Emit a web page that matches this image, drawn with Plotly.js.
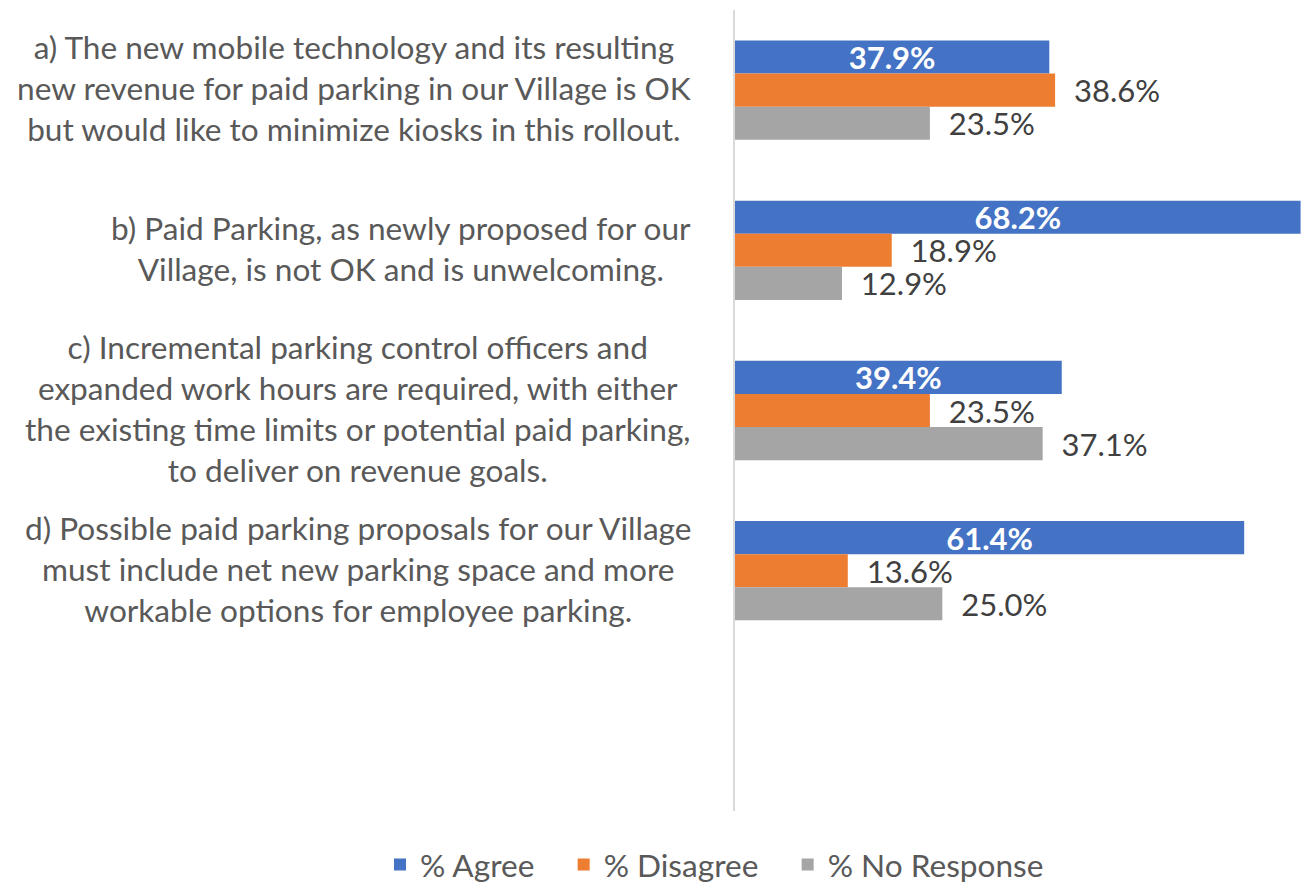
<!DOCTYPE html>
<html>
<head>
<meta charset="utf-8">
<script src="https://cdn.plot.ly/plotly-3.0.1.min.js"></script>
<style>html,body{margin:0;padding:0;background:#fff;}#chart{width:1301px;height:886px;}</style>
</head>
<body>
<div id="chart"></div>
<script>
var categories = ["a", "b", "c", "d"];
var categoryLabels = [
  "a) The new mobile technology and its resulting<br>new revenue for paid parking in our Village is OK<br>but would like to minimize kiosks in this rollout.",
  "b) Paid Parking, as newly proposed for our<br>Village, is not OK and is unwelcoming.",
  "c) Incremental parking control officers and<br>expanded work hours are required, with either<br>the existing time limits or potential paid parking,<br>to deliver on revenue goals.",
  "d) Possible paid parking proposals for our Village<br>must include net new parking space and more<br>workable options for employee parking."
];
var seriesNames = ["% Agree", "% Disagree", "% No Response"];
var agree = [37.9, 68.2, 39.4, 61.4];
var disagree = [38.6, 18.9, 23.5, 13.6];
var noResponse = [23.5, 12.9, 37.1, 25.0];

var FONT = "Lato, 'Open Sans', sans-serif";
var colors = ["#4472C4", "#ED7D31", "#A5A5A5"];
var PAD = "\u00a0\u00a0\u00a0";

function fmt(v) { return v.toFixed(1) + "%"; }

var traces = [
  {
    type: "bar", orientation: "h", name: seriesNames[0] + PAD,
    y: categories, x: agree,
    marker: {color: colors[0]},
    text: agree.map(fmt), textposition: "inside", insidetextanchor: "middle",
    constraintext: "none",
    textfont: {family: FONT, size: 31, color: "#FFFFFF", weight: "bold"},
    cliponaxis: false, hoverinfo: "none"
  },
  {
    type: "bar", orientation: "h", name: seriesNames[1] + PAD,
    y: categories, x: disagree,
    marker: {color: colors[1]},
    text: disagree.map(function(v){ return "\u00a0\u00a0" + fmt(v); }), textposition: "outside",
    constraintext: "none",
    textfont: {family: FONT, size: 31, color: "#404040"},
    cliponaxis: false, hoverinfo: "none"
  },
  {
    type: "bar", orientation: "h", name: seriesNames[2],
    y: categories, x: noResponse,
    marker: {color: colors[2]},
    text: noResponse.map(function(v){ return "\u00a0\u00a0" + fmt(v); }), textposition: "outside",
    constraintext: "none",
    textfont: {family: FONT, size: 31, color: "#404040"},
    cliponaxis: false, hoverinfo: "none"
  }
];

var annotations = categories.map(function(c, i) {
  return {
    xref: "paper", yref: "y", x: 0, y: c,
    xanchor: "right", yanchor: "middle", align: "center",
    xshift: -42, yshift: 2, showarrow: false,
    text: categoryLabels[i],
    font: {family: FONT, size: 31.6, color: "#595959"}
  };
});

var layout = {
  width: 1301, height: 886,
  margin: {l: 735, r: 0, t: 10, b: 75, pad: 0, autoexpand: false},
  paper_bgcolor: "#FFFFFF", plot_bgcolor: "#FFFFFF",
  barmode: "group", bargap: 0.38, bargroupgap: 0,
  showlegend: true,
  legend: {
    orientation: "h", xref: "paper", yref: "paper",
    x: (380 - 735) / 566, xanchor: "left", y: (811 - 865) / 801, yanchor: "middle",
    font: {family: FONT, size: 31.6, color: "#595959"},
    traceorder: "normal", itemclick: false
  },
  xaxis: {range: [0, 68.25], showgrid: false, zeroline: false, showticklabels: false, showline: false, ticks: ""},
  yaxis: {
    type: "category", categoryorder: "array", categoryarray: categories,
    range: [4.5, -0.5], showgrid: false, zeroline: false,
    showticklabels: false, ticks: "", showline: true, linecolor: "#D9D9D9", linewidth: 2
  },
  annotations: annotations,
  font: {family: FONT}
};

Plotly.newPlot("chart", traces, layout, {displayModeBar: false, staticPlot: true});
</script>
</body>
</html>
